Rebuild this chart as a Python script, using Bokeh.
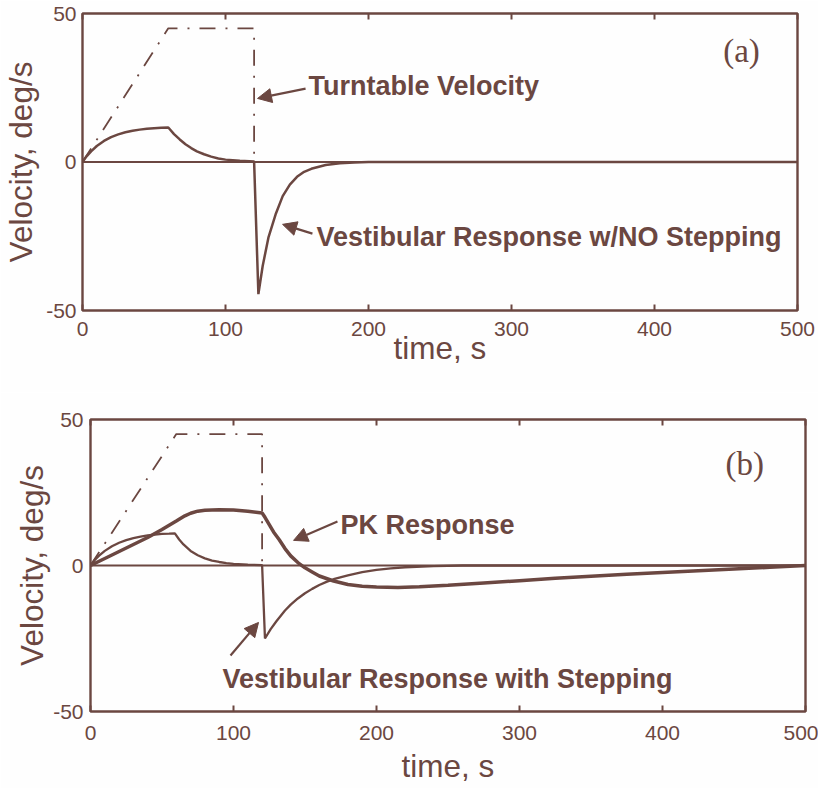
from bokeh.plotting import figure
from bokeh.layouts import column, row
from bokeh.models import Range1d, LinearAxis, FixedTicker, Span, Label, Arrow, NormalHead
from bokeh.embed import file_html
from bokeh.resources import INLINE

BROWN = "#6b4741"
BG = "#fefefe"
SANS = "Liberation Sans"
SERIF = "Liberation Serif"

# ---------------- data ----------------
x_ticks = [0, 100, 200, 300, 400, 500]
y_ticks = [-50, 0, 50]
y_tick_labels = {-50: "-50", 0: "0", 50: "50"}

time_turntable = [0, 60, 120, 120]
vel_turntable = [0, 45, 45, 0]

time_vest_a = [0, 3, 6, 10, 15, 20, 25, 30, 35, 40, 45, 50, 55, 60, 64, 68, 72, 76, 80, 85,
               90, 95, 100, 110, 120, 123, 126, 130, 135, 140, 145, 150, 155, 160, 170, 180,
               190, 200, 250, 300, 400, 500]
vel_vest_a = [0, 2.0, 3.6, 5.4, 7.1, 8.4, 9.3, 10.0, 10.5, 10.9, 11.2, 11.4, 11.5, 11.6, 9.4,
              7.6, 6.0, 4.7, 3.6, 2.6, 1.8, 1.2, 0.8, 0.4, 0.2, -44.5, -35.0, -25.5, -17.7,
              -11.5, -7.6, -5.0, -3.3, -2.3, -1.0, -0.4, -0.2, 0, 0, 0, 0, 0]

time_vest_b = [0, 3, 6, 10, 15, 20, 25, 30, 35, 40, 45, 50, 55, 59, 62, 65, 70, 75, 80, 85,
               90, 95, 100, 110, 120, 122, 126, 130, 136, 140, 145, 150, 155, 160, 165, 170,
               180, 190, 200, 210, 220, 240, 260, 300, 400, 500]
vel_vest_b = [0, 1.9, 3.4, 5.0, 6.6, 7.8, 8.7, 9.4, 9.9, 10.3, 10.6, 10.8, 10.9, 11.0, 8.9,
              7.2, 5.0, 3.5, 2.45, 1.7, 1.2, 0.84, 0.59, 0.29, 0.15, -25.0, -21.8, -19.1,
              -15.4, -13.4, -11.3, -9.5, -8.0, -6.7, -5.6, -4.7, -3.4, -2.3, -1.5, -1.0,
              -0.6, -0.2, 0, 0, 0, 0]

time_pk = [0, 10, 20, 30, 40, 50, 60, 66, 70, 75, 80, 90, 100, 110, 120, 122, 125, 128, 132,
           136, 140, 145, 150, 155, 160, 170, 180, 190, 200, 215, 230, 250, 275, 300, 325,
           350, 375, 400, 425, 450, 475, 500]
vel_pk = [0, 2.4, 4.8, 7.2, 9.6, 12.3, 15.2, 17.0, 17.9, 18.6, 18.9, 19.1, 19.0, 18.6, 18.0,
          16.5, 14.0, 11.5, 8.8, 5.8, 3.3, 1.0, -0.8, -2.2, -3.6, -5.3, -6.5, -7.1, -7.4,
          -7.5, -7.3, -6.8, -6.0, -5.2, -4.4, -3.7, -3.0, -2.4, -1.8, -1.2, -0.6, 0]

X_LABEL = "time, s"
Y_LABEL = "Velocity, deg/s"


def make_panel(height, b_left, b_right, b_top, b_bottom, xlab_standoff, ylab_standoff,
               xtick_standoff, ytick_standoff):
    p = figure(width=818, height=height, x_range=Range1d(0, 500), y_range=Range1d(-50, 50),
               output_backend="svg", toolbar_location=None,
               min_border_left=b_left, min_border_right=b_right,
               min_border_top=b_top, min_border_bottom=b_bottom,
               background_fill_color=BG, border_fill_color=BG,
               x_axis_label=X_LABEL, y_axis_label=Y_LABEL)
    p.grid.visible = False
    p.outline_line_color = BROWN
    p.outline_line_width = 2.4
    p.outline_line_alpha = 1.0

    xa = p.xaxis[0]
    xa.ticker = FixedTicker(ticks=x_ticks)
    xa.axis_line_color = None
    xa.major_tick_in = 6
    xa.major_tick_out = 0
    xa.minor_tick_in = 0
    xa.minor_tick_out = 0
    xa.major_tick_line_color = BROWN
    xa.major_tick_line_width = 2
    xa.major_label_text_font = SANS
    xa.major_label_text_font_size = "21px"
    xa.major_label_text_color = BROWN
    xa.major_label_standoff = xtick_standoff
    xa.axis_label_text_font = SANS
    xa.axis_label_text_font_size = "31.5px"
    xa.axis_label_text_font_style = "normal"
    xa.axis_label_text_color = BROWN
    xa.axis_label_standoff = xlab_standoff

    ya = p.yaxis[0]
    ya.ticker = FixedTicker(ticks=y_ticks)
    ya.major_label_overrides = y_tick_labels
    ya.axis_line_color = None
    ya.major_tick_in = 0
    ya.major_tick_out = 0
    ya.minor_tick_in = 0
    ya.minor_tick_out = 0
    ya.major_label_text_font = SANS
    ya.major_label_text_font_size = "21px"
    ya.major_label_text_color = BROWN
    ya.major_label_standoff = ytick_standoff
    ya.axis_label_text_font = SANS
    ya.axis_label_text_font_size = "31.5px"
    ya.axis_label_text_font_style = "normal"
    ya.axis_label_text_color = BROWN
    ya.axis_label_standoff = ylab_standoff

    top = LinearAxis(ticker=FixedTicker(ticks=x_ticks),
                     major_label_overrides={t: "" for t in x_ticks},
                     major_label_text_font_size="1px", major_label_standoff=0,
                     axis_line_color=None, major_tick_in=6, major_tick_out=0,
                     minor_tick_in=0, minor_tick_out=0,
                     major_tick_line_color=BROWN, major_tick_line_width=2)
    p.add_layout(top, "above")

    p.add_layout(Span(location=0, dimension="width", line_color=BROWN, line_width=2))
    p.line(time_turntable, vel_turntable, line_color=BROWN, line_width=1.8,
           line_dash="16 10 2 10")
    return p


def add_label(p, x, y, text, size="27px", font=SANS, style="bold"):
    p.add_layout(Label(x=x, y=y, text=text, text_font=font, text_font_size=size,
                       text_font_style=style, text_color=BROWN, text_baseline="middle",
                       text_align="left"))


def add_arrow(p, x0, y0, x1, y1):
    p.add_layout(Arrow(end=NormalHead(size=14, fill_color=BROWN, line_color=BROWN),
                       x_start=x0, y_start=y0, x_end=x1, y_end=y1,
                       line_color=BROWN, line_width=2.2))


# ---------------- panel (a) ----------------
pa = make_panel(392, 82, 21, 13, 82, xlab_standoff=-9, ylab_standoff=4,
                xtick_standoff=11, ytick_standoff=6)
pa.line(time_vest_a, vel_vest_a, line_color=BROWN, line_width=2.5)
add_label(pa, 158, 25.6, "Turntable Velocity")
add_arrow(pa, 156, 24.7, 122.4, 21.4)
add_label(pa, 163.6, -25.4, "Vestibular Response w/NO Stepping")
add_arrow(pa, 160.8, -24.1, 139.9, -21.0)
add_label(pa, 448, 37.3, "(a)", size="33px", font=SERIF, style="normal")

# ---------------- panel (b) ----------------
pb = make_panel(396, 90, 13, 27, 77, xlab_standoff=5, ylab_standoff=0,
                xtick_standoff=14, ytick_standoff=7)
pb.line(time_vest_b, vel_vest_b, line_color=BROWN, line_width=2.3)
pb.line(time_pk, vel_pk, line_color=BROWN, line_width=3.5)
add_label(pb, 174.8, 13.7, "PK Response")
add_arrow(pb, 172.7, 15.1, 142, 8.6)
add_label(pb, 92.3, -38.7, "Vestibular Response with Stepping")
add_arrow(pb, 97.9, -30.8, 117.5, -19.5)
add_label(pb, 444, 34.6, "(b)", size="33px", font=SERIF, style="normal")

layout = column(row(pa), row(pb), spacing=0)
open("out.html", "w").write(file_html(layout, INLINE))
